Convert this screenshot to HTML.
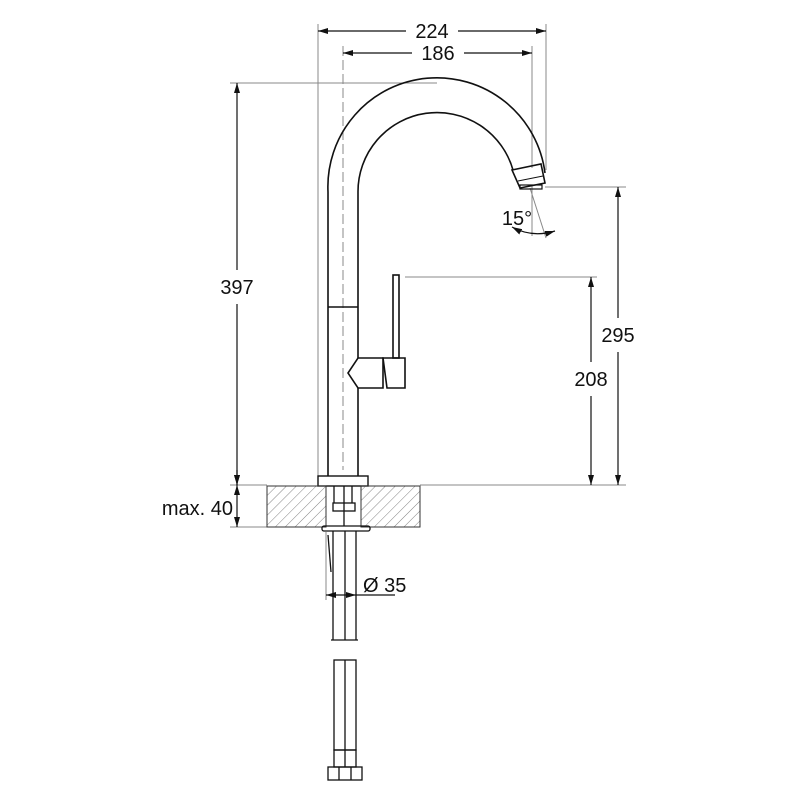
<!DOCTYPE html>
<html><head><meta charset="utf-8"><style>html,body{margin:0;padding:0;background:#fff}svg{display:block}text{font-family:"Liberation Sans",sans-serif;font-size:20px;fill:#111}</style></head>
<body>
<svg width="800" height="800" viewBox="0 0 800 800" xmlns="http://www.w3.org/2000/svg">
<defs>
<marker id="a" viewBox="0 0 10 6" refX="10" refY="3" markerWidth="10" markerHeight="6" orient="auto-start-reverse" markerUnits="userSpaceOnUse"><path d="M0,0 L10,3 L0,6 z" fill="#111"/></marker>
<pattern id="h" width="7" height="7" patternUnits="userSpaceOnUse" patternTransform="rotate(45)"><line x1="0" y1="0" x2="0" y2="7" stroke="#666" stroke-width="0.8"/></pattern>
</defs>
<g stroke="#888" stroke-width="1" fill="none">
<line x1="318" y1="24" x2="318" y2="476"/>
<line x1="546" y1="24" x2="546" y2="170"/>
<line x1="532" y1="46" x2="532" y2="168"/>
<line x1="230" y1="83" x2="437" y2="83"/>
<line x1="545" y1="187" x2="626" y2="187"/>
<line x1="405" y1="277" x2="597" y2="277"/>
<line x1="230" y1="485" x2="267" y2="485"/>
<line x1="420" y1="485" x2="626" y2="485"/>
<line x1="230" y1="527" x2="267" y2="527"/>
<line x1="326" y1="532" x2="326" y2="600"/>
<line x1="356" y1="532" x2="356" y2="600"/>
<line x1="532" y1="186" x2="532" y2="236"/>
<line x1="530" y1="188" x2="546" y2="238"/>
</g>
<line x1="343" y1="46" x2="343" y2="470" stroke="#888" stroke-width="1" stroke-dasharray="10,4"/>
<g stroke="#111" stroke-width="1.2" fill="none">
<line x1="318" y1="31" x2="406" y2="31" marker-start="url(#a)"/><line x1="458" y1="31" x2="546" y2="31" marker-end="url(#a)"/>
<line x1="343" y1="53" x2="412" y2="53" marker-start="url(#a)"/><line x1="464" y1="53" x2="532" y2="53" marker-end="url(#a)"/>
<line x1="237" y1="83" x2="237" y2="270" marker-start="url(#a)"/><line x1="237" y1="304" x2="237" y2="485" marker-end="url(#a)"/>
<line x1="618" y1="187" x2="618" y2="318" marker-start="url(#a)"/><line x1="618" y1="352" x2="618" y2="485" marker-end="url(#a)"/>
<line x1="591" y1="277" x2="591" y2="362" marker-start="url(#a)"/><line x1="591" y1="396" x2="591" y2="485" marker-end="url(#a)"/>
<line x1="237" y1="470" x2="237" y2="485" marker-end="url(#a)"/>
<line x1="237" y1="485" x2="237" y2="527" marker-start="url(#a)" marker-end="url(#a)"/>
<line x1="326" y1="595" x2="356" y2="595" marker-start="url(#a)" marker-end="url(#a)"/>
<line x1="356" y1="595" x2="395" y2="595"/>
<path d="M512 227 Q532 238 555 231" marker-start="url(#a)" marker-end="url(#a)"/>
</g>
<g stroke="#111" stroke-width="1.6" fill="none">
<path d="M328 476 L328 192 A109 109 0 0 1 545 173"/>
<path d="M358 358 L358 192 A79 79 0 0 1 513 170"/>
<path d="M358 388 L358 476"/>
<line x1="328" y1="307" x2="358" y2="307"/>
<path d="M512 170 L541 164 L545 183 L520 188 Z"/>
<line x1="518" y1="181" x2="543" y2="176" stroke-width="1"/>
<rect x="520" y="185" width="22" height="4" stroke-width="1.2"/>
<rect x="393" y="275" width="6" height="83"/>
<path d="M358 358 L383 358 L383 388 L358 388 L348 373 Z"/>
<path d="M383 358 L405 358 L405 388 L387 388 Z"/>
<rect x="318" y="476" width="50" height="10" stroke-width="1.4"/>
</g>
<rect x="267" y="486" width="59" height="41" fill="url(#h)" stroke="#333" stroke-width="1"/>
<rect x="361" y="486" width="59" height="41" fill="url(#h)" stroke="#333" stroke-width="1"/>
<g stroke="#111" stroke-width="1.3" fill="none">
<line x1="334" y1="486" x2="334" y2="503"/><line x1="352" y1="486" x2="352" y2="503"/>
<rect x="333" y="503" width="22" height="8"/>
<line x1="344" y1="486" x2="344" y2="526"/>
<rect x="322" y="526" width="48" height="5" rx="2"/>
<line x1="333" y1="531" x2="333" y2="640"/><line x1="345" y1="531" x2="345" y2="640"/><line x1="356" y1="531" x2="356" y2="640"/>
<line x1="331" y1="640" x2="358" y2="640"/>
<line x1="328" y1="535" x2="331" y2="572"/>
<rect x="334" y="660" width="22" height="90"/><line x1="345" y1="660" x2="345" y2="767"/>
<rect x="334" y="750" width="22" height="17"/>
<rect x="328" y="767" width="34" height="13"/>
<line x1="339" y1="767" x2="339" y2="780"/><line x1="351" y1="767" x2="351" y2="780"/>
</g>
<text x="432" y="38" text-anchor="middle">224</text>
<text x="438" y="60" text-anchor="middle">186</text>
<text x="237" y="294" text-anchor="middle">397</text>
<text x="618" y="342" text-anchor="middle">295</text>
<text x="591" y="386" text-anchor="middle">208</text>
<text x="517" y="225" text-anchor="middle">15°</text>
<text x="233" y="515" text-anchor="end">max. 40</text>
<text x="363" y="592">Ø 35</text>
</svg>
</body></html>
